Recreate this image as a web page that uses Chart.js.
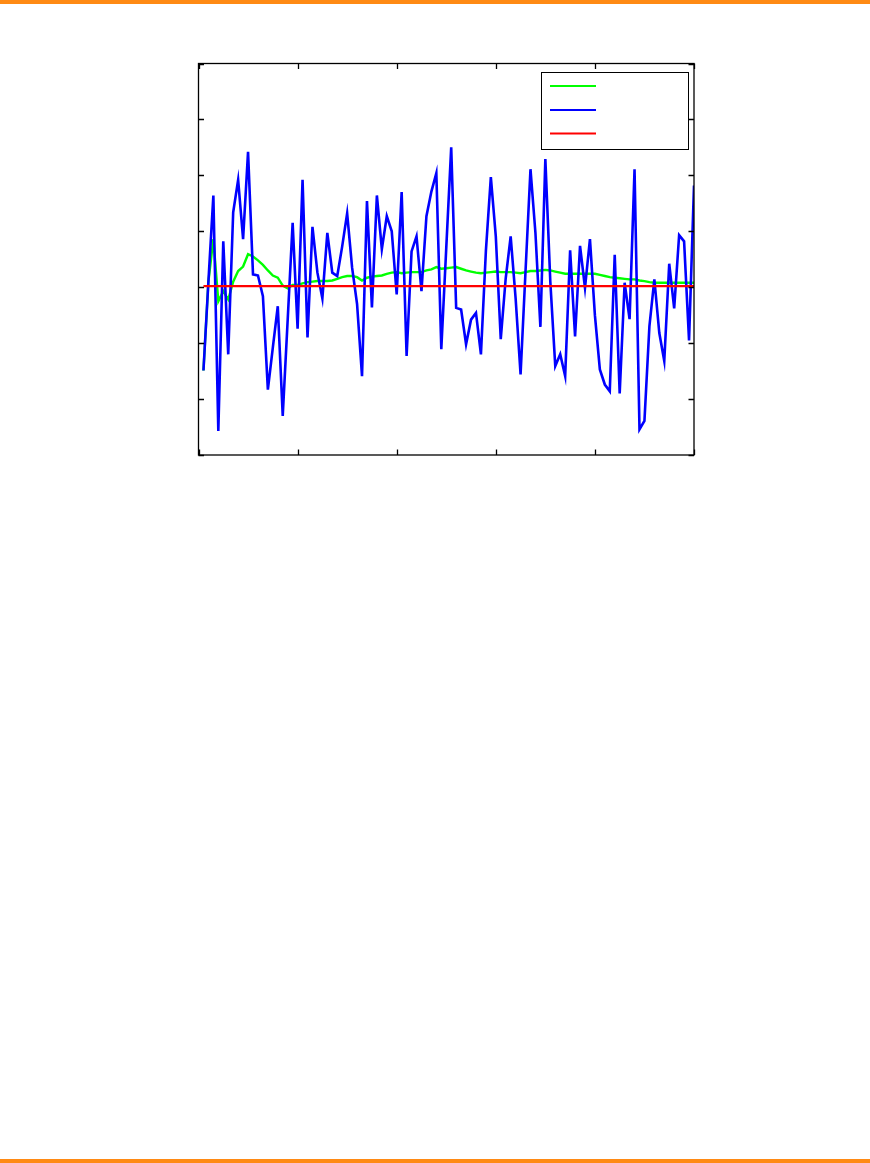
<!DOCTYPE html>
<html>
<head>
<meta charset="utf-8">
<script src="https://cdn.jsdelivr.net/npm/chart.js@4/dist/chart.umd.min.js"></script>
<style>
  html, body { margin: 0; padding: 0; background: #ffffff; }
  body { width: 870px; height: 1163px; position: relative; overflow: hidden; }
  #topbar { position: absolute; left: 0; top: 0; width: 870px; height: 3.5px; background: #FF8A14; }
  #botbar { position: absolute; left: 0; top: 1159px; width: 870px; height: 4px; background: #FF8A14; }
  #c { position: absolute; left: 0; top: 0; }
</style>
</head>
<body>
<div id="topbar"></div>
<div id="botbar"></div>
<canvas id="c" width="870" height="1163"></canvas>
<script>
// ---- data ----
const sampleIndex = [1,2,3,4,5,6,7,8,9,10,11,12,13,14,15,16,17,18,19,20,
  21,22,23,24,25,26,27,28,29,30,31,32,33,34,35,36,37,38,39,40,
  41,42,43,44,45,46,47,48,49,50,51,52,53,54,55,56,57,58,59,60,
  61,62,63,64,65,66,67,68,69,70,71,72,73,74,75,76,77,78,79,80,
  81,82,83,84,85,86,87,88,89,90,91,92,93,94,95,96,97,98,99,100];

const blueSeries = [-1.49,0.10,1.64,-2.57,0.82,-1.20,1.34,1.92,0.86,2.42,
  0.23,0.21,-0.16,-1.83,-1.08,-0.34,-2.30,-0.58,1.15,-0.74,
  1.92,-0.90,1.08,0.26,-0.20,0.97,0.26,0.20,0.73,1.32,
  0.35,-0.30,-1.59,1.54,-0.36,1.64,0.68,1.27,1.00,-0.13,
  1.70,-1.23,0.64,0.91,-0.07,1.27,1.71,2.04,-1.11,0.70,
  2.50,-0.37,-0.40,-1.02,-0.58,-0.46,-1.20,0.65,1.97,0.91,
  -0.93,0.16,0.91,-0.20,-1.56,0.29,2.11,0.97,-0.71,2.29,
  0.10,-1.41,-1.20,-1.59,0.66,-0.88,0.74,-0.01,0.86,-0.50,
  -1.47,-1.74,-1.86,0.58,-1.90,0.08,-0.57,2.11,-2.54,-2.39,
  -0.70,0.14,-0.82,-1.32,0.42,-0.38,0.93,0.82,-0.95,1.82];

const greenSeries = [-1.49,0.10,0.86,-0.25,-0.07,-0.22,0.10,0.29,0.37,0.59,
  0.55,0.48,0.40,0.30,0.21,0.17,0.03,-0.02,0.04,0.04,
  0.07,0.09,0.10,0.11,0.11,0.11,0.12,0.15,0.18,0.20,
  0.20,0.18,0.12,0.17,0.19,0.20,0.21,0.24,0.26,0.27,
  0.25,0.26,0.27,0.27,0.27,0.30,0.32,0.36,0.33,0.34,
  0.35,0.36,0.33,0.30,0.28,0.26,0.25,0.26,0.27,0.28,
  0.27,0.27,0.27,0.26,0.25,0.27,0.29,0.29,0.30,0.31,
  0.30,0.28,0.26,0.24,0.24,0.24,0.24,0.24,0.24,0.24,
  0.22,0.20,0.18,0.17,0.16,0.15,0.14,0.14,0.12,0.11,
  0.09,0.08,0.08,0.08,0.08,0.08,0.08,0.08,0.08,0.08];

const redX = [1, 100];
const redY = [0.02, 0.02];

const xTicks = [0, 20, 40, 60, 80, 100];
const yTicks = [-3, -2, -1, 0, 1, 2, 3, 4];

// ---- build datasets ----
const toPts = (xs, ys) => ys.map((v, i) => ({ x: xs[i], y: v }));

const frameAndTicks = {
  id: 'frameAndTicks',
  afterDatasetsDraw(chart) {
    const { ctx, chartArea: a, scales } = chart;
    ctx.save();
    ctx.strokeStyle = '#000';
    ctx.lineWidth = 1.3;
    ctx.strokeRect(a.left, a.top, a.right - a.left, a.bottom - a.top);
    const L = 5.5;
    ctx.beginPath();
    xTicks.forEach(t => {
      const px = Math.round(scales.x.getPixelForValue(t)) + 0.5;
      ctx.moveTo(px, a.bottom); ctx.lineTo(px, a.bottom - L);
      ctx.moveTo(px, a.top); ctx.lineTo(px, a.top + L);
    });
    yTicks.forEach(t => {
      const py = Math.round(scales.y.getPixelForValue(t)) + 0.5;
      ctx.moveTo(a.left, py); ctx.lineTo(a.left + L, py);
      ctx.moveTo(a.right, py); ctx.lineTo(a.right - L, py);
    });
    ctx.stroke();

    // legend box (no text in the reference)
    const bx = 541.5, by = 72.5, bw = 147, bh = 77;
    ctx.fillStyle = '#fff';
    ctx.fillRect(bx, by, bw, bh);
    ctx.lineWidth = 1;
    ctx.strokeStyle = '#000';
    ctx.strokeRect(bx, by, bw, bh);
    const rows = [86, 110, 133.5];
    [0, 1, 2].forEach((di, k) => {
      const ds = chart.data.datasets[di];
      ctx.strokeStyle = ds.borderColor;
      ctx.lineWidth = 2;
      ctx.beginPath();
      ctx.moveTo(550, rows[k]);
      ctx.lineTo(596, rows[k]);
      ctx.stroke();
    });
    ctx.restore();
  }
};

new Chart(document.getElementById('c'), {
  type: 'line',
  data: {
    datasets: [
      { label: 'green', data: toPts(sampleIndex, greenSeries), borderColor: '#00FF00', borderWidth: 2.4, pointRadius: 0, tension: 0, order: 3 },
      { label: 'blue', data: toPts(sampleIndex, blueSeries), borderColor: '#0000FF', borderWidth: 2.6, pointRadius: 0, tension: 0, order: 2 },
      { label: 'red', data: toPts(redX, redY), borderColor: '#FF0000', borderWidth: 2.2, pointRadius: 0, tension: 0, order: 1 }
    ]
  },
  options: {
    responsive: false,
    animation: false,
    devicePixelRatio: 1,
    layout: { padding: { left: 198.5, right: 176, top: 63.5, bottom: 708 } },
    plugins: { legend: { display: false }, tooltip: { enabled: false }, title: { display: false } },
    scales: {
      x: { type: 'linear', min: 0, max: 100, display: false },
      y: { type: 'linear', min: -3, max: 4, display: false }
    }
  },
  plugins: [frameAndTicks]
});
</script>
</body>
</html>
